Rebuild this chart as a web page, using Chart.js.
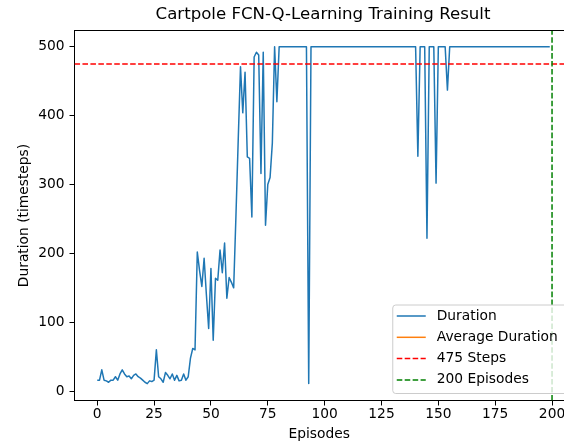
<!DOCTYPE html>
<html>
<head>
<meta charset="utf-8">
<script src="https://cdn.jsdelivr.net/npm/chart.js@4.4.1/dist/chart.umd.min.js"></script>
<style>
    html, body { margin: 0; padding: 0; background: #fff; overflow: hidden; }
    .chart__box { position: relative; width: 564px; height: 445px; }
</style>
</head>
<body>
<div class="chart__box"><canvas id="trainingChart"></canvas></div>
<script>
// Data
const durations = [
    16, 16, 31, 16, 15, 13, 16, 16, 21, 16,
    25, 31, 25, 21, 22, 18, 23, 25, 21, 19,
    16, 13, 11, 15, 14, 16, 60, 21, 18, 13,
    27, 23, 18, 25, 16, 23, 15, 16, 25, 16,
    21, 48, 62, 60, 202, 175, 152, 193, 140, 91,
    178, 74, 164, 161, 205, 172, 215, 135, 165, 158,
    150, 255, 365, 471, 404, 463, 340, 338, 253, 485,
    492, 488, 316, 492, 241, 300, 310, 360, 500, 420,
    500, 500, 500, 500, 500, 500, 500, 500, 500, 500,
    500, 500, 500, 11, 500, 500, 500, 500, 500, 500,
    500, 500, 500, 500, 500, 500, 500, 500, 500, 500,
    500, 500, 500, 500, 500, 500, 500, 500, 500, 500,
    500, 500, 500, 500, 500, 500, 500, 500, 500, 500,
    500, 500, 500, 500, 500, 500, 500, 500, 500, 500,
    500, 341, 500, 500, 500, 222, 500, 500, 500, 302,
    500, 500, 500, 500, 437, 500, 500, 500, 500, 500,
    500, 500, 500, 500, 500, 500, 500, 500, 500, 500,
    500, 500, 500, 500, 500, 500, 500, 500, 500, 500,
    500, 500, 500, 500, 500, 500, 500, 500, 500, 500,
    500, 500, 500, 500, 500, 500, 500, 500, 500, 500,
];
const episodes = durations.map((v, i) => i);
const averageDurations = [];
const targetSteps = 475;
const targetEpisodes = 200;
const xTicks = [0, 25, 50, 75, 100, 125, 150, 175, 200];
const yTicks = [0, 100, 200, 300, 400, 500];
// the original axes run to 210, but the picture is cut at about 205
const xRange = [-10, 205.26];
const yRange = [-13.5, 523.5];

const font = 'DejaVu Sans';
const dash = [5.55, 2.4];

// top spine (left and bottom come from the axis borders, right one is cut off)
const frame = {
    id: 'frame',
    afterDatasetsDraw(chart) {
        const { ctx, chartArea: { left, top, right } } = chart;
        ctx.save();
        ctx.strokeStyle = '#000';
        ctx.lineWidth = 1;
        ctx.beginPath();
        ctx.moveTo(left, top);
        ctx.lineTo(right, top);
        ctx.stroke();
        ctx.restore();
    }
};

// matplotlib-like legend, lower right inside the axes
const boxLegend = {
    id: 'boxLegend',
    afterDatasetsDraw(chart) {
        const { ctx, chartArea } = chart;
        const sets = chart.data.datasets;
        const rowH = 21.3;
        const width = 175;
        const height = 88.5;
        const right = chartArea.right + 3.75;
        const bottom = chartArea.bottom - 7;
        const left = right - width;
        const top = bottom - height;

        ctx.save();
        ctx.beginPath();
        ctx.roundRect(left, top, width, height, 3);
        ctx.fillStyle = 'rgba(255,255,255,0.8)';
        ctx.fill();
        ctx.strokeStyle = '#cccccc';
        ctx.lineWidth = 1;
        ctx.stroke();

        ctx.font = '13.8px "' + font + '"';
        ctx.textBaseline = 'middle';
        sets.forEach((ds, i) => {
            const y = top + 11 + i * rowH;
            ctx.beginPath();
            ctx.setLineDash(ds.borderDash || []);
            ctx.strokeStyle = ds.borderColor;
            ctx.lineWidth = ds.borderWidth;
            ctx.moveTo(left + 4, y);
            ctx.lineTo(left + 33, y);
            ctx.stroke();
            ctx.setLineDash([]);
            ctx.fillStyle = '#000';
            ctx.fillText(ds.label, left + 44, y);
        });
        ctx.restore();
    }
};

const axisCommon = {
    type: 'linear',
    grid: {
        drawOnChartArea: false,
        drawTicks: true,
        tickLength: 5,
        color: '#000',
    },
    border: {
        display: true,
        color: '#000',
        width: 1,
    },
};

const ctx = document.getElementById('trainingChart');
new Chart(ctx, {
    type: 'line',
    data: {
        datasets: [
            {
                label: 'Duration',
                data: episodes.map((e, i) => ({ x: e, y: durations[i] })),
                borderColor: '#1f77b4',
                borderWidth: 1.5,
                borderJoinStyle: 'round',
                pointRadius: 0,
                tension: 0,
                order: 4,
            },
            {
                label: 'Average Duration',
                data: averageDurations.map((v, i) => ({ x: i, y: v })),
                borderColor: '#ff7f0e',
                borderWidth: 1.5,
                pointRadius: 0,
                order: 3,
            },
            {
                label: targetSteps + ' Steps',
                data: [{ x: xRange[0], y: targetSteps }, { x: xRange[1], y: targetSteps }],
                borderColor: '#ff0000',
                borderWidth: 1.5,
                borderDash: dash,
                pointRadius: 0,
                order: 2,
            },
            {
                label: targetEpisodes + ' Episodes',
                data: [{ x: targetEpisodes, y: yRange[0] }, { x: targetEpisodes, y: yRange[1] }],
                borderColor: '#008000',
                borderWidth: 1.5,
                borderDash: dash,
                pointRadius: 0,
                order: 1,
            },
        ]
    },
    options: {
        responsive: true,
        maintainAspectRatio: false,
        animation: false,
        devicePixelRatio: 1,
        layout: {
            padding: 0,
        },
        scales: {
            x: {
                ...axisCommon,
                min: xRange[0],
                max: xRange[1],
                afterBuildTicks: (scale) => {
                    scale.ticks = xTicks.map((v) => ({ value: v }));
                },
                afterFit: (scale) => {
                    scale.height = 44.5;
                    scale.paddingLeft = 0;
                    scale.paddingRight = 0;
                },
                ticks: {
                    autoSkip: false,
                    maxRotation: 0,
                    padding: 1,
                    color: '#000',
                    font: { family: font, size: 13.8 },
                },
                title: {
                    display: true,
                    text: 'Episodes',
                    color: '#000',
                    font: { family: font, size: 13.8 },
                    padding: { top: 0, bottom: 2.7 },
                },
            },
            y: {
                ...axisCommon,
                min: yRange[0],
                max: yRange[1],
                afterBuildTicks: (scale) => {
                    scale.ticks = yTicks.map((v) => ({ value: v }));
                },
                afterFit: (scale) => {
                    scale.width = 74.5;
                    scale.paddingTop = 0;
                    scale.paddingBottom = 0;
                },
                ticks: {
                    autoSkip: false,
                    padding: 5,
                    color: '#000',
                    font: { family: font, size: 13.8 },
                },
                title: {
                    display: true,
                    text: 'Duration (timesteps)',
                    color: '#000',
                    font: { family: font, size: 13.8 },
                    padding: { top: 15.7, bottom: 0 },
                },
            },
        },
        plugins: {
            legend: { display: false },
            tooltip: { enabled: false },
            title: {
                display: true,
                text: 'Cartpole FCN-Q-Learning Training Result',
                color: '#000',
                font: { family: font, size: 16.6, weight: 'normal' },
                // centred over the full 210-wide axes of the original
                align: 'start',
                padding: { top: 5, bottom: 5.58 },
            },
        },
    },
    plugins: [frame, boxLegend, {
        id: 'titleShift',
        beforeDraw(chart) {
            const t = chart.titleBlock;
            if (!t) return;
            const { ctx } = chart;
            ctx.save();
            ctx.font = '16.6px "' + font + '"';
            const w = ctx.measureText(chart.options.plugins.title.text).width;
            ctx.restore();
            t.left = 323 - w / 2;
            t.right = t.left + w;
        }
    }],
});
</script>
</body>
</html>
